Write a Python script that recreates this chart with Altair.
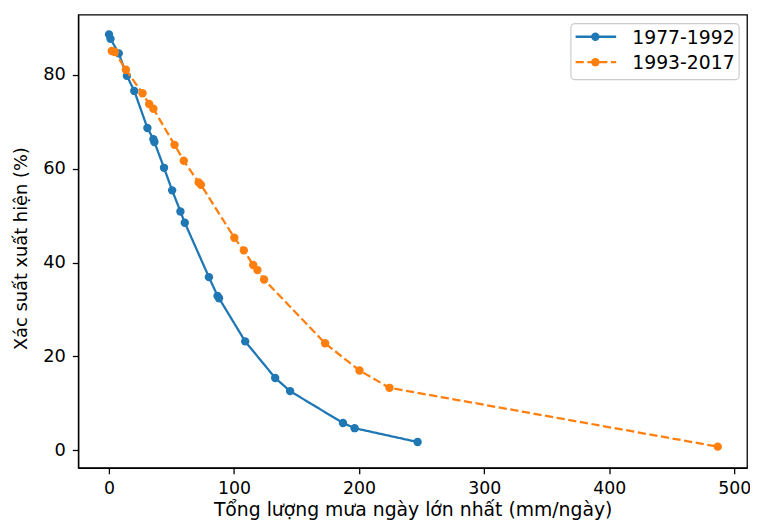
import altair as alt
import pandas as pd

# ---- data ----
series_names = ["1977-1992", "1993-2017"]
colors = ["#1f77b4", "#ff7f0e"]

blue_x = [0.0, 1.2, 7.8, 14.3, 20.2, 30.7, 35.5, 36.3, 44.0, 50.5, 57.1, 60.6,
          79.9, 86.8, 88.0, 108.9, 132.9, 144.8, 187.1, 196.4, 246.8]
blue_y = [88.65, 87.7, 84.6, 79.8, 76.6, 68.7, 66.3, 65.7, 60.2, 55.4, 50.9, 48.5,
          36.9, 32.9, 32.4, 23.2, 15.4, 12.6, 5.8, 4.7, 1.75]

orange_x = [2.2, 4.6, 13.5, 26.8, 32.1, 35.5, 52.4, 59.8, 71.7, 73.5, 100.2, 107.8,
            115.3, 118.7, 124.0, 172.8, 200.3, 224.3, 486.8]
orange_y = [85.1, 84.9, 81.1, 76.1, 73.8, 72.8, 65.1, 61.7, 57.1, 56.6, 45.3, 42.6,
            39.5, 38.4, 36.4, 22.8, 17.0, 13.3, 0.76]

x_ticks = [0, 100, 200, 300, 400, 500]
y_ticks = [0, 20, 40, 60, 80]
x_title = "Tổng lượng mưa ngày lớn nhất (mm/ngày)"
y_title = "Xác suất xuất hiện (%)"

FONT = "DejaVu Sans"

df = pd.concat([
    pd.DataFrame({"x": blue_x, "y": blue_y, "series": series_names[0], "i": range(len(blue_x))}),
    pd.DataFrame({"x": orange_x, "y": orange_y, "series": series_names[1], "i": range(len(orange_x))}),
], ignore_index=True)

xs = alt.Scale(domain=[-24.6, 510.2], nice=False, zero=False)
ys = alt.Scale(domain=[-3.75, 92.85], nice=False, zero=False)

xenc = alt.X("x:Q", scale=xs, title=x_title,
             axis=alt.Axis(values=x_ticks, grid=False, tickSize=6, labelPadding=6,
                           labelFlush=False, labelOverlap=False,
                           titlePadding=4, labelFontSize=17.5, titleFontSize=19,
                           labelFont=FONT, titleFont=FONT, titleFontWeight="normal"))
yenc = alt.Y("y:Q", scale=ys, title=y_title,
             axis=alt.Axis(values=y_ticks, grid=False, tickSize=6, labelPadding=7,
                           labelFlush=False, titleY=236,
                           titlePadding=12, labelFontSize=18, titleFontSize=18,
                           labelFont=FONT, titleFont=FONT, titleFontWeight="normal"))

base = alt.Chart(df)
layers = []
dashes = [[1, 0], [8.3, 3.6]]
for name, col, dash in zip(series_names, colors, dashes):
    sub = base.transform_filter(alt.datum.series == name)
    line = sub.mark_line(color=col, strokeWidth=2.3, strokeDash=dash).encode(
        x=xenc, y=yenc, order="i:Q")
    pts = sub.mark_circle(color=col, size=72, opacity=1).encode(x=xenc, y=yenc)
    layers += [line, pts]

# ---- hand-made legend (pixel positions inside plot area) ----
one = pd.DataFrame({"k": [0]})
leg = alt.Chart(one)
box = leg.mark_rect(fill="white", fillOpacity=0.8, stroke="#cccccc", strokeWidth=1.2,
                    cornerRadius=4).encode(
    x=alt.value(498), x2=alt.value(668), y=alt.value(9), y2=alt.value(65.7))
layers.append(box)
leg_y = [22.3, 48.0]
for name, col, dash, yy in zip(series_names, colors, dashes, leg_y):
    layers.append(leg.mark_rule(color=col, strokeWidth=2.3, strokeDash=dash).encode(
        x=alt.value(502.7), x2=alt.value(543.7), y=alt.value(yy)))
    layers.append(leg.mark_circle(color=col, size=72, opacity=1).encode(
        x=alt.value(522.7), y=alt.value(yy)))
    layers.append(leg.mark_text(align="left", baseline="middle", fontSize=19, font=FONT,
                                color="black", text=name).encode(
        x=alt.value(560), y=alt.value(yy + 1)))

chart = alt.layer(*layers).properties(
    width=676, height=458,
    background="white",
    autosize=alt.AutoSizeParams(type="none"),
    padding={"left": 71, "top": 4, "right": 3, "bottom": 50},
).configure_view(stroke="black", strokeWidth=1.3).configure_axis(
    domainColor="black", domainWidth=1.3, tickColor="black", tickWidth=1.3,
    labelColor="black", titleColor="black", labelFont=FONT, titleFont=FONT,
    titleFontWeight="normal",
)

chart.save("out.html", embed_options={"renderer": "svg", "actions": False})
